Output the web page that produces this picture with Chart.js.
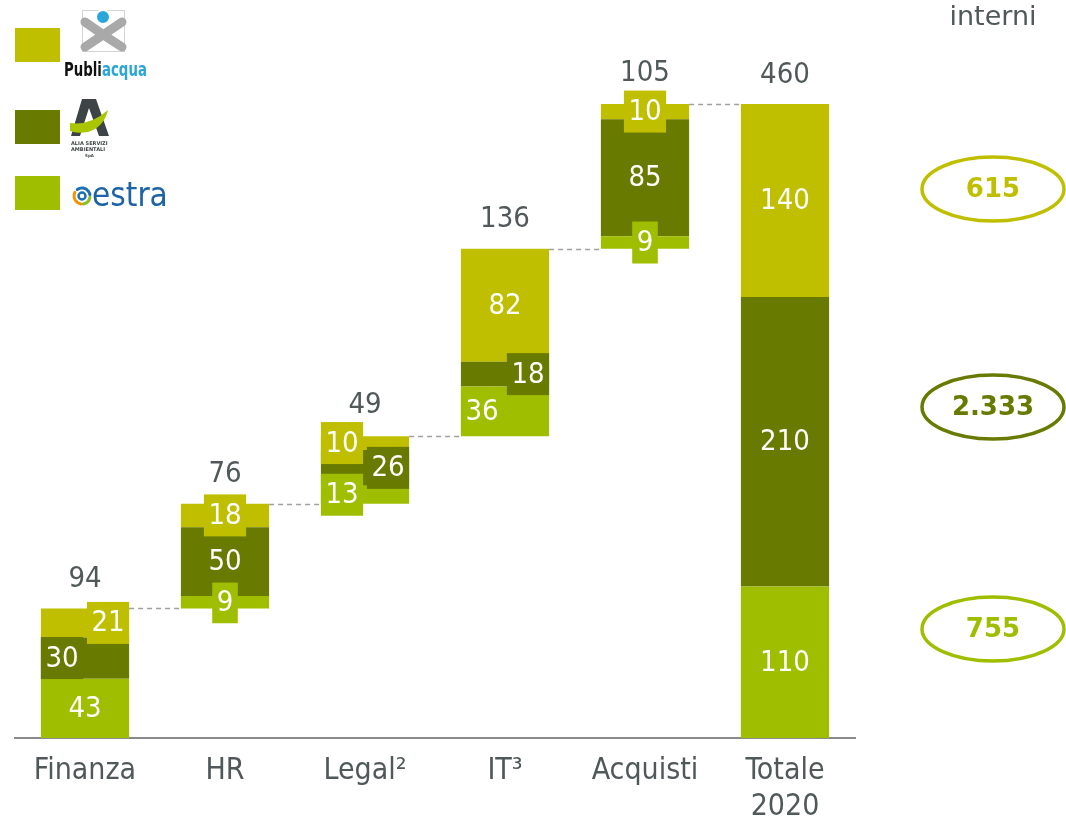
<!DOCTYPE html>
<html>
<head>
<meta charset="utf-8">
<script src="https://cdn.jsdelivr.net/npm/chart.js@4/dist/chart.umd.min.js"></script>
<style>
  html, body { margin: 0; padding: 0; background: #fff; }
  #wrap { width: 1066px; height: 825px; position: relative; }
</style>
</head>
<body>
<div id="wrap"><canvas id="chart"></canvas></div>
<script>
// --- data ---
const categories = ['Finanza', 'HR', 'Legal²', 'IT³', 'Acquisti', ['Totale', '2020']];
const totals = [94, 76, 49, 136, 105, 460];
const estraValues = [43, 9, 13, 36, 9, 110];
const aliaValues = [30, 50, 26, 18, 85, 210];
const publiacquaValues = [21, 18, 10, 82, 10, 140];
const interniLabels = ['615', '2.333', '755']; // publiacqua, alia, estra

// label placement inside each bar (c = centre, l = left, r = right)
const estraAlign = ['c', 'c', 'l', 'l', 'c', 'c'];
const aliaAlign = ['l', 'c', 'r', 'r', 'c', 'c'];
const publiacquaAlign = ['r', 'c', 'l', 'c', 'c', 'c'];

const COL_PUB = '#bfbf00';
const COL_ALIA = '#687a00';
const COL_ESTRA = '#a0be00';
const TEXT_GREY = '#50585a';
const FONT = '"DejaVu Sans Condensed", "DejaVu Sans", sans-serif';

// waterfall: every category starts where the previous one ended, the total starts at 0
const bases = [];
let running = 0;
for (let i = 0; i < totals.length; i++) {
    if (i === totals.length - 1) {
        bases.push(0);
    } else {
        bases.push(running);
        running += totals[i];
    }
}
const estraRanges = estraValues.map((v, i) => [bases[i], bases[i] + v]);
const aliaRanges = aliaValues.map((v, i) => [bases[i] + estraValues[i], bases[i] + estraValues[i] + v]);
const pubRanges = publiacquaValues.map((v, i) => [bases[i] + estraValues[i] + aliaValues[i], bases[i] + totals[i]]);

const LABEL_H = 42;

function labelBox(ctx, el, text, align) {
    ctx.font = '29px ' + FONT;
    const w = ctx.measureText(text).width + 9;
    const left = el.x - el.width / 2;
    const right = el.x + el.width / 2;
    let bx;
    if (align === 'l') bx = left;
    else if (align === 'r') bx = right - w;
    else bx = el.x - w / 2;
    const mid = (el.y + el.base) / 2;
    return { x: bx, y: mid - LABEL_H / 2, w: w, h: LABEL_H, mid: mid };
}

const segmentLabels = {
    id: 'segmentLabels',
    afterDatasetsDraw(chart) {
        const ctx = chart.ctx;
        const sources = [
            { values: estraValues, align: estraAlign, color: COL_ESTRA },
            { values: aliaValues, align: aliaAlign, color: COL_ALIA },
            { values: publiacquaValues, align: publiacquaAlign, color: COL_PUB }
        ];
        const boxTops = totals.map(() => Infinity);
        ctx.save();
        sources.forEach((src, d) => {
            const meta = chart.getDatasetMeta(d);
            meta.data.forEach((el, i) => {
                const text = String(src.values[i]);
                const b = labelBox(ctx, el, text, src.align[i]);
                boxTops[i] = Math.min(boxTops[i], b.y);
                ctx.fillStyle = src.color;
                ctx.fillRect(b.x, b.y, b.w, b.h);
                ctx.fillStyle = '#ffffff';
                ctx.textAlign = 'center';
                ctx.textBaseline = 'middle';
                ctx.fillText(text, b.x + b.w / 2, b.mid + 1);
            });
        });

        // totals above each bar
        const yScale = chart.scales.y;
        const top = chart.getDatasetMeta(2).data;
        ctx.fillStyle = TEXT_GREY;
        ctx.font = '29px ' + FONT;
        ctx.textAlign = 'center';
        ctx.textBaseline = 'middle';
        top.forEach((el, i) => {
            const barTop = Math.min(el.y, el.base);
            const y = Math.min(barTop - 29, boxTops[i] - 17);
            ctx.fillText(String(totals[i]), el.x, y);
        });

        // dashed connectors between consecutive bars
        ctx.strokeStyle = '#a0a0a0';
        ctx.lineWidth = 1.5;
        ctx.setLineDash([5, 4]);
        for (let i = 0; i < totals.length - 1; i++) {
            const a = top[i], b = top[i + 1];
            const y = Math.round(yScale.getPixelForValue(bases[i] + totals[i])) + 0.5;
            ctx.beginPath();
            ctx.moveTo(a.x + a.width / 2, y);
            ctx.lineTo(b.x - b.width / 2, y);
            ctx.stroke();
        }
        ctx.restore();
    }
};

function drawLogos(ctx) {
    // Publiacqua
    ctx.save();
    ctx.strokeStyle = '#d4d4d4';
    ctx.lineWidth = 1;
    ctx.strokeRect(82.5, 10.5, 42, 41);
    ctx.strokeStyle = '#a9a9a9';
    ctx.lineWidth = 9;
    ctx.lineCap = 'round';
    ctx.beginPath();
    ctx.moveTo(85, 22); ctx.quadraticCurveTo(103, 35, 122, 47);
    ctx.moveTo(122, 22); ctx.quadraticCurveTo(103, 35, 85, 47);
    ctx.stroke();
    ctx.fillStyle = '#2ba6d9';
    ctx.strokeStyle = '#ffffff';
    ctx.lineWidth = 2;
    ctx.beginPath(); ctx.arc(103, 17, 7, 0, Math.PI * 2); ctx.fill(); ctx.stroke();
    ctx.save();
    ctx.translate(64, 76);
    ctx.scale(0.78, 1);
    ctx.font = 'bold 19px "DejaVu Sans Condensed", sans-serif';
    ctx.textBaseline = 'alphabetic';
    ctx.fillStyle = '#111111';
    ctx.fillText('Publi', 0, 0);
    const pw = ctx.measureText('Publi').width;
    ctx.fillStyle = '#2ba6d9';
    ctx.fillText('acqua', pw, 0);
    ctx.restore();

    // Alia
    ctx.fillStyle = '#3e4446';
    ctx.beginPath();
    ctx.moveTo(82, 99); ctx.lineTo(96, 99); ctx.lineTo(109, 136); ctx.lineTo(99, 136);
    ctx.lineTo(89, 108); ctx.lineTo(80, 136); ctx.lineTo(71, 136);
    ctx.closePath(); ctx.fill();
    ctx.fillStyle = '#a9c600';
    ctx.beginPath();
    ctx.moveTo(70, 123); ctx.quadraticCurveTo(90, 126, 108, 110);
    ctx.quadraticCurveTo(104, 127, 88, 132); ctx.quadraticCurveTo(76, 134, 70, 131);
    ctx.closePath(); ctx.fill();
    ctx.fillStyle = '#3e4446';
    ctx.font = 'bold 5px "DejaVu Sans", sans-serif';
    ctx.textBaseline = 'alphabetic';
    ctx.fillText('ALIA SERVIZI', 71, 145);
    ctx.fillText('AMBIENTALI', 71, 151);
    ctx.font = 'bold 4px "DejaVu Sans", sans-serif';
    ctx.fillText('SpA', 85, 157);

    // estra
    ctx.lineWidth = 3;
    ctx.lineCap = 'round';
    const cx = 82, cy = 196;
    ctx.strokeStyle = '#f39200';
    ctx.beginPath(); ctx.arc(cx, cy, 8, Math.PI * 0.55, Math.PI * 1.15); ctx.stroke();
    ctx.strokeStyle = '#1d6fb5';
    ctx.beginPath(); ctx.arc(cx, cy, 8, Math.PI * 1.3, Math.PI * 1.95); ctx.stroke();
    ctx.strokeStyle = '#8cbf26';
    ctx.beginPath(); ctx.arc(cx, cy, 8, Math.PI * 0.05, Math.PI * 0.45); ctx.stroke();
    ctx.strokeStyle = '#1d6fb5';
    ctx.lineWidth = 2.5;
    ctx.beginPath(); ctx.arc(cx, cy, 3.5, 0, Math.PI * 2); ctx.stroke();
    ctx.fillStyle = '#1e63a8';
    ctx.font = '33px "DejaVu Sans Condensed", sans-serif';
    ctx.fillText('estra', 92, 206);
    ctx.restore();
}

const decorations = {
    id: 'decorations',
    afterDraw(chart) {
        const ctx = chart.ctx;
        ctx.save();
        // legend swatches
        ctx.fillStyle = COL_PUB;   ctx.fillRect(15, 28, 45, 34);
        ctx.fillStyle = COL_ALIA;  ctx.fillRect(15, 110, 45, 34);
        ctx.fillStyle = COL_ESTRA; ctx.fillRect(15, 176, 45, 34);
        drawLogos(ctx);

        // right column
        ctx.fillStyle = TEXT_GREY;
        ctx.font = '27px "DejaVu Sans", sans-serif';
        ctx.textAlign = 'center';
        ctx.textBaseline = 'middle';
        ctx.fillText('interni', 993, 18);

        const rows = [
            { y: 189, color: COL_PUB },
            { y: 407, color: COL_ALIA },
            { y: 629, color: COL_ESTRA }
        ];
        rows.forEach((r, i) => {
            ctx.strokeStyle = r.color;
            ctx.lineWidth = 3.5;
            ctx.beginPath();
            ctx.ellipse(993, r.y, 71, 32, 0, 0, Math.PI * 2);
            ctx.stroke();
            ctx.fillStyle = r.color;
            ctx.font = 'bold 26px "DejaVu Sans", sans-serif';
            ctx.fillText(interniLabels[i], 993, r.y + 1);
        });
        ctx.restore();
    }
};

const barOpts = {
    grouped: false,
    barPercentage: 1,
    categoryPercentage: 0.63,
    borderWidth: 0,
    borderSkipped: false
};

new Chart(document.getElementById('chart'), {
    type: 'bar',
    data: {
        labels: categories,
        datasets: [
            { label: 'estra', data: estraRanges, backgroundColor: COL_ESTRA, ...barOpts },
            { label: 'Alia', data: aliaRanges, backgroundColor: COL_ALIA, ...barOpts },
            { label: 'Publiacqua', data: pubRanges, backgroundColor: COL_PUB, ...barOpts }
        ]
    },
    options: {
        responsive: true,
        maintainAspectRatio: false,
        animation: false,
        layout: { padding: { left: 15, right: 211, top: 104, bottom: -15 } },
        plugins: {
            legend: { display: false },
            tooltip: { enabled: false }
        },
        scales: {
            x: {
                grid: { display: false, drawTicks: false },
                border: { display: true, color: '#8a8a8a', width: 2 },
                ticks: {
                    color: TEXT_GREY,
                    font: { family: FONT, size: 30, lineHeight: 1.2 },
                    padding: 15,
                    maxRotation: 0,
                    autoSkip: false
                }
            },
            y: {
                display: false,
                min: 0,
                max: 460
            }
        }
    },
    plugins: [segmentLabels, decorations]
});
</script>
</body>
</html>
